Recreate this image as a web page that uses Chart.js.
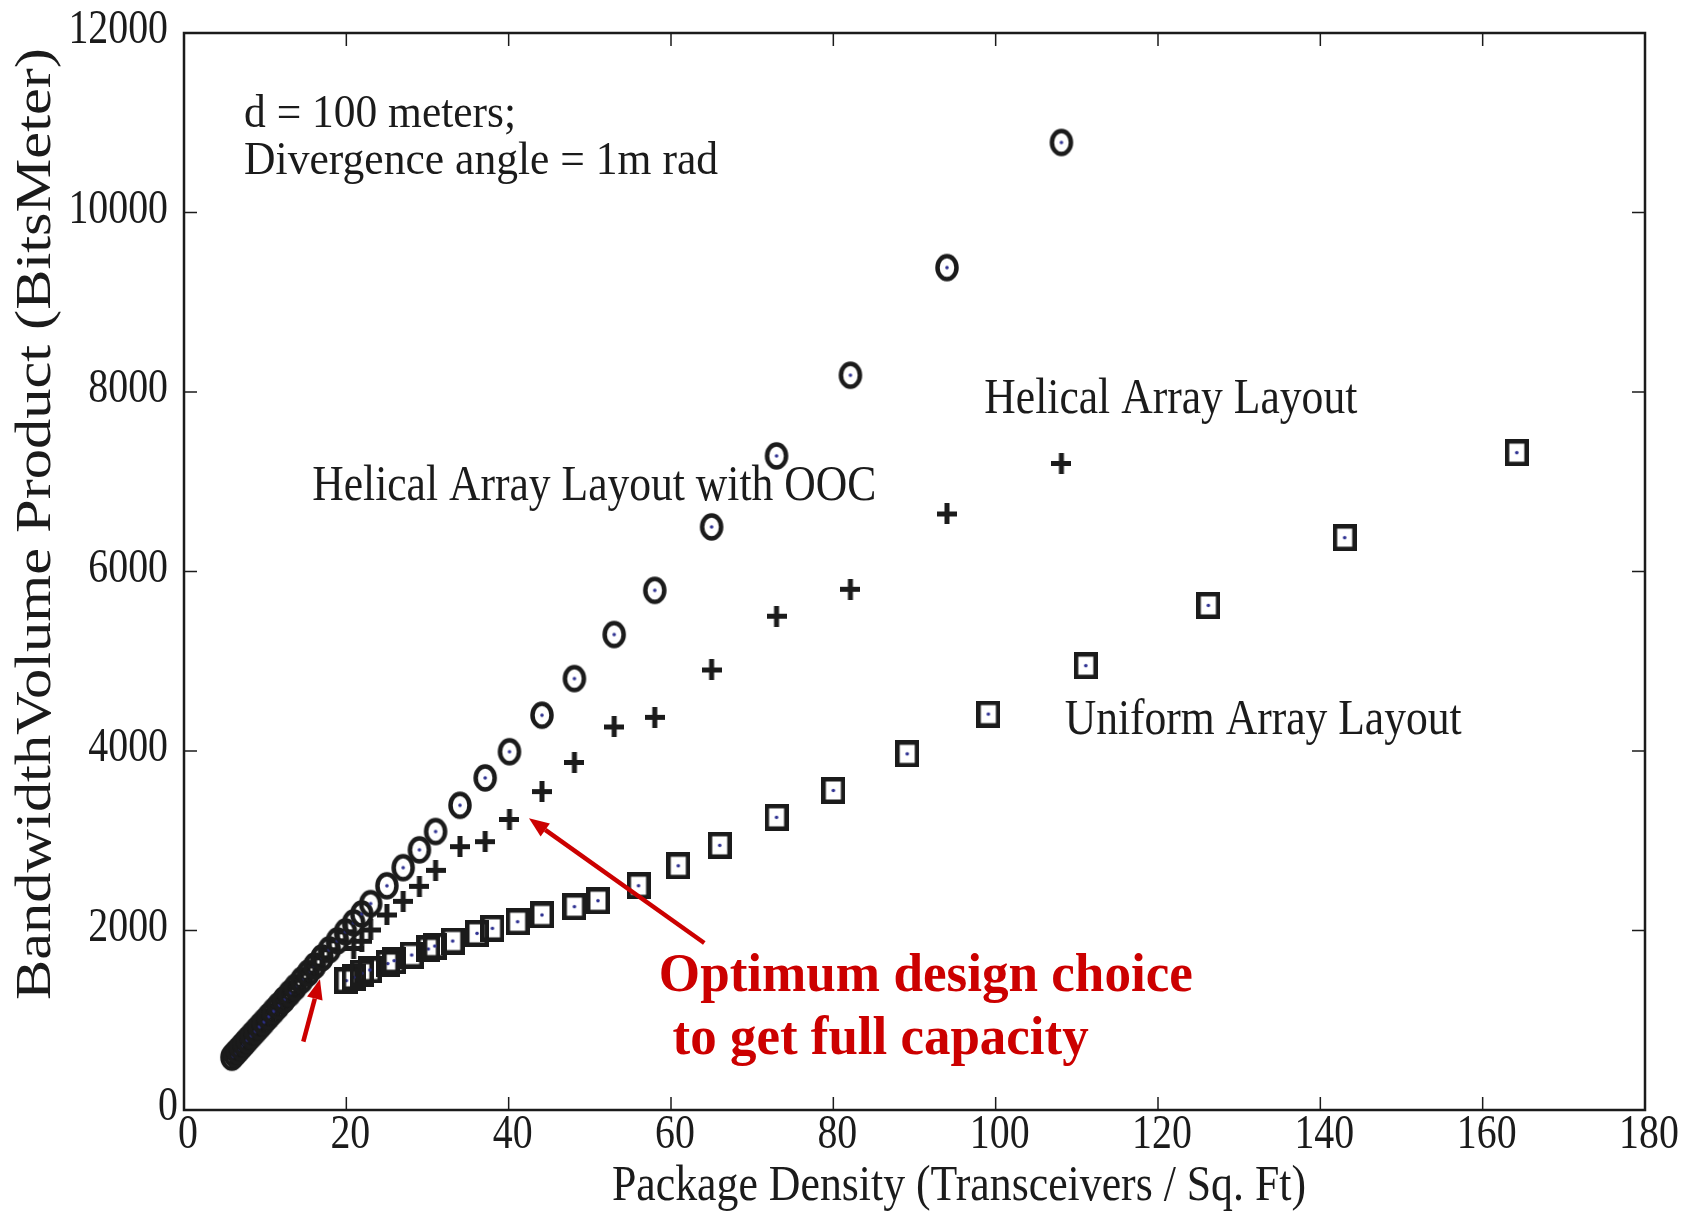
<!DOCTYPE html>
<html>
<head>
<meta charset="utf-8">
<script src="https://cdn.jsdelivr.net/npm/chart.js@4.4.0/dist/chart.umd.min.js"></script>
<style>
  body { margin: 0; background: #fff; }
  #wrap { width: 1686px; height: 1212px; }
</style>
</head>
<body>
<div id="wrap"><canvas id="chart" width="1686" height="1212"></canvas></div>
<script>
// package density (x) shared by both helical layouts
const xHelical = [5.9, 6.25, 6.6, 7.0, 7.4, 7.8, 8.3, 8.8, 9.3, 9.8, 10.4, 11.0, 11.6, 12.3, 13.0,
  13.7, 14.5, 15.3, 16.1, 17.0, 17.9, 18.9, 19.9, 20.9, 21.9, 23.0, 25.0, 27.0, 29.0, 31.0,
  34.0, 37.1, 40.1, 44.1, 48.1, 53.0, 58.0, 65.0, 73.0, 82.1, 94.0, 108.1];
// helical array layout with OOC (circles)
const yOOC = [588, 623, 658, 698, 738, 778, 828, 877, 927, 977, 1037, 1097, 1157, 1226, 1296,
  1366, 1446, 1525, 1605, 1695, 1785, 1885, 1985, 2085, 2185, 2300, 2498, 2700, 2899, 3103,
  3395, 3700, 3992, 4399, 4807, 5298, 5790, 6497, 7288, 8187, 9386, 10780];
// helical array layout (plus signs)
const yHelical = [588, 623, 658, 698, 738, 778, 828, 877, 927, 977, 1037, 1097, 1157, 1226, 1296,
  1366, 1446, 1525, 1605, 1695, 1785, 1885, 1985, 1800, 1880, 2006, 2173, 2325, 2492, 2670,
  2934, 2990, 3237, 3548, 3872, 4268, 4375, 4903, 5502, 5802, 6641, 7204];
// uniform array layout (squares)
const xUniform = [20.0, 20.9, 21.9, 22.9, 25.1, 25.9, 28.05, 30.1, 30.9, 33.1, 36.1, 38.0, 41.1, 44.1,
  48.1, 51.0, 56.0, 60.9, 66.0, 73.0, 80.0, 89.1, 99.1, 111.1, 126.2, 143.0, 164.2];
const yUniform = [1441, 1478, 1523, 1560, 1631, 1664, 1727, 1794, 1827, 1883, 1968, 2024, 2098, 2173,
  2266, 2332, 2499, 2721, 2949, 3261, 3560, 3968, 4411, 4951, 5622, 6377, 7324];

const xTicks = [0, 20, 40, 60, 80, 100, 120, 140, 160, 180];
const yTicks = [0, 2000, 4000, 6000, 8000, 10000, 12000];

const INK = '#1b1b1b';
const DOT = '#2e3192';
const RED = '#cc0000';
const SERIF = '"Liberation Serif", "Times New Roman", serif';

function toPoints(xs, ys) {
  return xs.map((x, i) => ({ x: x, y: ys[i] }));
}

// marker images: ring / box with a small blue centre dot, and a bold plus
function ringMarker() {
  const c = document.createElement('canvas');
  c.width = 26; c.height = 30;
  const g = c.getContext('2d');
  g.strokeStyle = INK; g.lineWidth = 4.5;
  g.beginPath(); g.ellipse(13, 15, 9.5, 11.5, 0, 0, Math.PI * 2); g.stroke();
  g.fillStyle = DOT;
  g.beginPath(); g.arc(13, 15, 1.8, 0, Math.PI * 2); g.fill();
  return c;
}

function boxMarker() {
  const c = document.createElement('canvas');
  c.width = 24; c.height = 27;
  const g = c.getContext('2d');
  g.strokeStyle = INK; g.lineWidth = 4.5;
  g.strokeRect(2.25, 2.25, 19.5, 22.5);
  g.fillStyle = DOT;
  g.beginPath(); g.arc(12, 13.5, 1.8, 0, Math.PI * 2); g.fill();
  return c;
}

function plusMarker() {
  const c = document.createElement('canvas');
  c.width = 20; c.height = 21;
  const g = c.getContext('2d');
  g.strokeStyle = INK; g.lineWidth = 5;
  g.beginPath();
  g.moveTo(0, 10.5); g.lineTo(20, 10.5);
  g.moveTo(10, 0); g.lineTo(10, 21);
  g.stroke();
  return c;
}

// text squeezed/stretched horizontally to the width it has in the figure
function fitText(ctx, text, x, y, font, opts) {
  ctx.save();
  ctx.font = font;
  ctx.fillStyle = opts.color || INK;
  ctx.textBaseline = 'alphabetic';
  const w = ctx.measureText(text).width;
  const sx = opts.width ? opts.width / w : (opts.sx || 1);
  ctx.translate(x, y);
  if (opts.rotate) ctx.rotate(opts.rotate);
  ctx.scale(sx, 1);
  ctx.textAlign = opts.align || 'left';
  ctx.fillText(text, 0, 0);
  ctx.restore();
}

function arrow(ctx, x1, y1, x2, y2) {
  const ang = Math.atan2(y2 - y1, x2 - x1);
  const head = 20, half = 8;
  const bx = x2 - head * Math.cos(ang), by = y2 - head * Math.sin(ang);
  ctx.save();
  ctx.strokeStyle = RED; ctx.fillStyle = RED; ctx.lineWidth = 4.5;
  ctx.beginPath(); ctx.moveTo(x1, y1); ctx.lineTo(bx, by); ctx.stroke();
  ctx.beginPath();
  ctx.moveTo(x2, y2);
  ctx.lineTo(bx + half * Math.sin(ang), by - half * Math.cos(ang));
  ctx.lineTo(bx - half * Math.sin(ang), by + half * Math.cos(ang));
  ctx.closePath(); ctx.fill();
  ctx.restore();
}

const notes = [
  { text: 'd = 100 meters;', x: 7.4, y: 10950, size: 46, width: 272 },
  { text: 'Divergence angle = 1m rad', x: 7.4, y: 10430, size: 46, width: 474 },
  { text: 'Helical Array Layout with OOC', x: 15.8, y: 6800, size: 50, width: 564 },
  { text: 'Helical Array Layout', x: 98.6, y: 7766, size: 50, width: 373 },
  { text: 'Uniform Array Layout', x: 108.5, y: 4190, size: 50, width: 397 },
  { text: 'Optimum design choice', x: 58.5, y: 1326, size: 54, width: 534, bold: true, color: RED },
  { text: 'to get full capacity', x: 60.2, y: 624, size: 54, width: 416, bold: true, color: RED }
];

const frame = {
  id: 'frame',
  afterDraw(chart) {
    const ctx = chart.ctx;
    const a = chart.chartArea;
    const xs = chart.scales.x, ys = chart.scales.y;

    // box round the plot with inward ticks on every side
    ctx.save();
    ctx.strokeStyle = INK;
    ctx.lineWidth = 2.5;
    ctx.strokeRect(a.left, a.top, a.right - a.left, a.bottom - a.top);
    ctx.lineWidth = 1.5;
    ctx.beginPath();
    xTicks.forEach(v => {
      const px = xs.getPixelForValue(v);
      ctx.moveTo(px, a.bottom); ctx.lineTo(px, a.bottom - 13);
      ctx.moveTo(px, a.top); ctx.lineTo(px, a.top + 13);
    });
    yTicks.forEach(v => {
      const py = ys.getPixelForValue(v);
      ctx.moveTo(a.left, py); ctx.lineTo(a.left + 13, py);
      ctx.moveTo(a.right, py); ctx.lineTo(a.right - 13, py);
    });
    ctx.stroke();
    ctx.restore();

    // tick labels
    const tickFont = '48px ' + SERIF;
    xTicks.forEach(v => {
      fitText(ctx, String(v), xs.getPixelForValue(v) + 4, a.bottom + 38, tickFont, { sx: 0.83, align: 'center' });
    });
    yTicks.forEach(v => {
      const right = v === 0 ? a.left - 6 : a.left - 16;
      fitText(ctx, String(v), right, ys.getPixelForValue(v) + 10, tickFont, { sx: 0.83, align: 'right' });
    });

    // axis titles
    fitText(ctx, 'Package Density (Transceivers / Sq. Ft)', a.left + 775, a.bottom + 90,
      '50px ' + SERIF, { width: 694, align: 'center' });
    ctx.save();
    ctx.font = '50px ' + SERIF;
    const tw = ctx.measureText('BandwidthVolume Product (BitsMeter)').width;
    ctx.restore();
    ctx.save();
    ctx.translate(a.left - 134, ys.getPixelForValue(6529));
    ctx.rotate(-Math.PI / 2);
    ctx.scale(952 / tw, 1);
    ctx.font = '50px ' + SERIF;
    ctx.fillStyle = INK;
    ctx.textAlign = 'center';
    ctx.fillText('BandwidthVolume Product (BitsMeter)', 0, 0);
    ctx.restore();

    // annotations placed in data units
    notes.forEach(n => {
      const font = (n.bold ? 'bold ' : '') + n.size + 'px ' + SERIF;
      fitText(ctx, n.text, xs.getPixelForValue(n.x), ys.getPixelForValue(n.y), font,
        { width: n.width, color: n.color });
    });

    arrow(ctx, xs.getPixelForValue(64.1), ys.getPixelForValue(1861),
      xs.getPixelForValue(42.5), ys.getPixelForValue(3250));
    arrow(ctx, xs.getPixelForValue(14.7), ys.getPixelForValue(761),
      xs.getPixelForValue(16.75), ys.getPixelForValue(1457));
  }
};

new Chart(document.getElementById('chart'), {
  type: 'scatter',
  data: {
    datasets: [
      { label: 'Helical Array Layout with OOC', data: toPoints(xHelical, yOOC), pointStyle: ringMarker(), pointRadius: 10 },
      { label: 'Helical Array Layout', data: toPoints(xHelical, yHelical), pointStyle: plusMarker(), pointRadius: 10 },
      { label: 'Uniform Array Layout', data: toPoints(xUniform, yUniform), pointStyle: boxMarker(), pointRadius: 10 }
    ]
  },
  options: {
    responsive: false,
    animation: false,
    layout: { padding: { left: 184, right: 41, top: 33, bottom: 102 } },
    plugins: { legend: { display: false }, tooltip: { enabled: false } },
    scales: {
      x: { type: 'linear', min: 0, max: 180, display: false },
      y: { type: 'linear', min: 0, max: 12000, display: false }
    }
  },
  plugins: [frame]
});
</script>
</body>
</html>
